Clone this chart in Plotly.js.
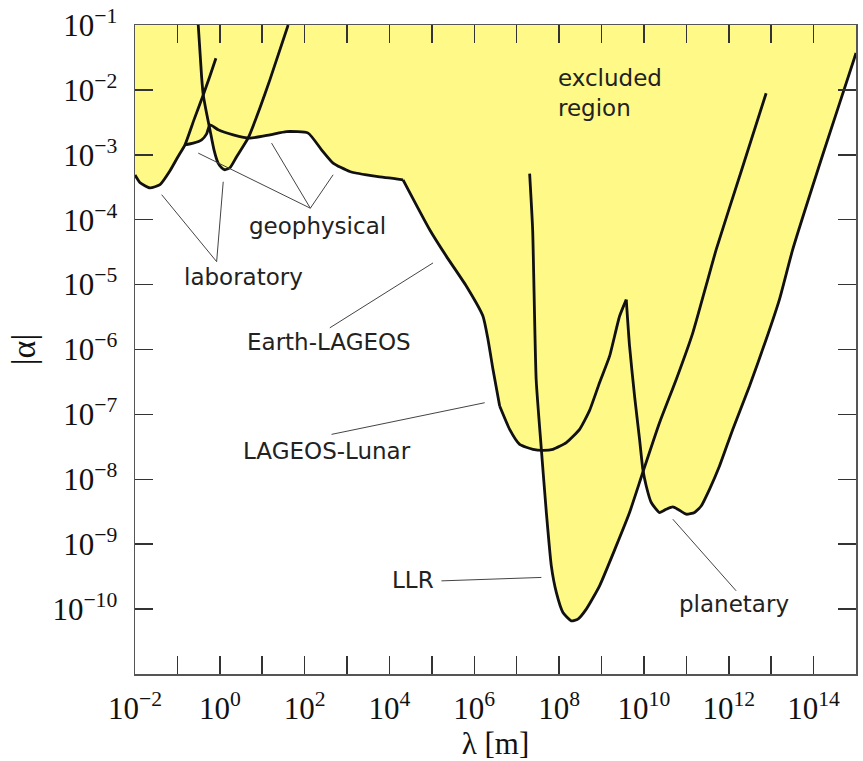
<!DOCTYPE html>
<html>
<head>
<meta charset="utf-8">
<script src="https://cdn.plot.ly/plotly-3.0.1.min.js"></script>
<style>html,body{margin:0;padding:0;background:#fff;}#chart{width:863px;height:761px;}</style>
</head>
<body>
<div id="chart"></div>
<script>
// ---- data (exponents: log10 lambda [m], log10 |alpha|) ----
const xRangeExp = [-2, 15];
const yRangeExp = [-11, -1];

const xLabelTickExps = [-2,0,2,4,6,8,10,12,14];
const xMinorTickExps = [-1,1,3,5,7,9,11,13];
const yTickExps = [-1,-2,-3,-4,-5,-6,-7,-8,-9,-10];

// laboratory curve 1 (left)
const labA_x = [-2, -1.88, -1.647, -1.41, -1.175, -0.987, -0.822, -0.610, -0.391, -0.233, -0.092];
const labA_y = [-3.31, -3.43, -3.51, -3.46, -3.246, -3.03, -2.846, -2.462, -2.077, -1.785, -1.512];

// laboratory curve 2 (steep V near 1 m)
const labB_x = [-0.509, -0.43, -0.391, -0.327, -0.233, -0.139, -0.045, 0.042, 0.12, 0.238, 0.396, 0.669, 0.945, 1.18, 1.611];
const labB_y = [-1, -1.795, -2.077, -2.31, -2.615, -2.92, -3.12, -3.20, -3.23, -3.20, -3.03, -2.74, -2.28, -1.846, -1];

// geophysical
const geo_x = [-0.822, -0.627, -0.429, -0.311, -0.233, -0.038, 0.316, 0.709, 1.180, 1.574, 2.082, 2.398, 2.671, 3.064, 3.694, 4.320];
const geo_y = [-2.846, -2.820, -2.769, -2.677, -2.538, -2.615, -2.692, -2.743, -2.692, -2.642, -2.666, -2.923, -3.128, -3.257, -3.334, -3.385];

// Earth-LAGEOS
const earthLageos_x = [4.320, 4.949, 5.343, 5.814, 6.205, 6.323, 6.441, 6.598];
const earthLageos_y = [-3.385, -4.154, -4.565, -5.026, -5.488, -5.846, -6.308, -6.872];

// LAGEOS-Lunar
const lageosLunar_x = [6.598, 6.834, 7.069, 7.383, 7.618, 7.854, 8.170, 8.483, 8.719, 8.955, 9.190, 9.425, 9.583];
const lageosLunar_y = [-6.872, -7.231, -7.462, -7.538, -7.554, -7.538, -7.435, -7.231, -6.938, -6.508, -6.103, -5.488, -5.231];

// planetary
const planetary_x = [9.583, 9.661, 9.779, 9.897, 9.974, 10.054, 10.172, 10.367, 10.525, 10.681, 10.799, 10.997, 11.192, 11.350, 11.546, 11.782, 12.094, 12.488, 12.881, 13.194, 13.507, 14.254, 14.961, 15.0];
const planetary_y = [-5.231, -5.949, -6.718, -7.385, -7.846, -8.103, -8.358, -8.512, -8.462, -8.426, -8.462, -8.538, -8.512, -8.411, -8.154, -7.795, -7.231, -6.565, -5.846, -5.231, -4.462, -2.923, -1.512, -1.43];

// LLR
const llr_x = [7.305, 7.376, 7.459, 7.581, 7.699, 7.816, 7.934, 8.090, 8.287, 8.443, 8.641, 8.954, 9.347, 9.661, 9.974, 10.367, 10.761, 11.152, 11.505, 11.703, 12.292, 12.881];
const llr_y = [-3.29, -4.154, -6.462, -7.538, -8.512, -9.334, -9.743, -10.051, -10.180, -10.154, -10.0, -9.641, -9.026, -8.512, -7.892, -7.128, -6.462, -5.743, -4.923, -4.462, -3.257, -2.051];

// lower boundary of the excluded region
const boundary_x = [-2, -1.88, -1.647, -1.41, -1.175, -0.987, -0.822, -0.627, -0.429, -0.311, -0.248,
  -0.233, -0.139, -0.045, 0.042, 0.12, 0.238, 0.396, 0.669,
  0.709, 1.180, 1.574, 2.082, 2.398, 2.671, 3.064, 3.694, 4.320,
  4.949, 5.343, 5.814, 6.205, 6.323, 6.441, 6.598,
  6.834, 7.069, 7.383, 7.581,
  7.699, 7.816, 7.934, 8.090, 8.287, 8.443, 8.641, 8.954, 9.347, 9.661, 9.974,
  10.054, 10.172, 10.367, 10.525, 10.681, 10.799, 10.997, 11.192, 11.350, 11.546, 11.782, 12.094, 12.488, 12.881, 13.194, 13.507, 14.254, 14.961, 15.0];
const boundary_y = [-3.31, -3.43, -3.51, -3.46, -3.246, -3.03, -2.846, -2.820, -2.769, -2.677, -2.566,
  -2.615, -2.92, -3.12, -3.20, -3.23, -3.20, -3.03, -2.74,
  -2.743, -2.692, -2.642, -2.666, -2.923, -3.128, -3.257, -3.334, -3.385,
  -4.154, -4.565, -5.026, -5.488, -5.846, -6.308, -6.872,
  -7.231, -7.462, -7.538, -7.545,
  -8.512, -9.334, -9.743, -10.051, -10.180, -10.154, -10.0, -9.641, -9.026, -8.512, -7.85,
  -8.103, -8.358, -8.512, -8.462, -8.426, -8.462, -8.538, -8.512, -8.411, -8.154, -7.795, -7.231, -6.565, -5.846, -5.231, -4.462, -2.923, -1.512, -1.43];

// leader lines (polylines of [x,y] exponents)
const leaders = [
  [[-1.371,-3.615],[-0.075,-4.646],[0.080,-3.415]],          // laboratory
  [[-0.509,-2.974],[2.134,-3.823],[1.220,-2.820]],           // geophysical
  [[2.134,-3.823],[2.671,-3.308]],                            // geophysical
  [[5.027,-4.666],[2.594,-5.666]],                            // Earth-LAGEOS
  [[6.245,-6.820],[2.634,-7.308]],                            // LAGEOS-Lunar
  [[5.225,-9.565],[7.581,-9.512]],                            // LLR
  [[10.681,-8.615],[12.174,-9.718]]                           // planetary
];

// labels: [text, xExp, yExp, xanchor]
const labels = [
  ['excluded<br>region', 7.92, -2.05, 'left'],
  ['geophysical', 2.311, -4.092, 'center'],
  ['laboratory', 0.551, -4.877, 'center'],
  ['Earth-LAGEOS', 2.570, -5.885, 'center'],
  ['LAGEOS-Lunar', 2.535, -7.562, 'center'],
  ['LLR', 4.556, -9.554, 'center'],
  ['planetary', 12.134, -9.923, 'center']
];

// ---- build ----
const p10 = a => a.map(v => Math.pow(10, v));
const YELLOW = '#fffa88';
const LINE = {color: '#111', width: 2.8, shape: 'spline', smoothing: 0.5};

const traces = [];
traces.push({x: p10(xRangeExp), y: p10([yRangeExp[1], yRangeExp[1]]), mode: 'lines',
  line: {width: 0}, hoverinfo: 'skip', showlegend: false});
traces.push({x: p10(boundary_x), y: p10(boundary_y), mode: 'lines', fill: 'tonexty',
  fillcolor: YELLOW, line: {width: 0, shape: 'spline', smoothing: 0.5}, hoverinfo: 'skip', showlegend: false});

[[labA_x, labA_y], [labB_x, labB_y], [geo_x, geo_y], [earthLageos_x, earthLageos_y],
 [lageosLunar_x, lageosLunar_y], [planetary_x, planetary_y], [llr_x, llr_y]].forEach(c => {
  traces.push({x: p10(c[0]), y: p10(c[1]), mode: 'lines', line: LINE, hoverinfo: 'skip', showlegend: false});
});

const lx = [], ly = [];
leaders.forEach(seg => { seg.forEach(p => { lx.push(Math.pow(10, p[0])); ly.push(Math.pow(10, p[1])); }); lx.push(null); ly.push(null); });
traces.push({x: lx, y: ly, mode: 'lines', line: {color: '#444', width: 1}, hoverinfo: 'skip', showlegend: false, connectgaps: false});

const supText = e => '10<sup>' + (e < 0 ? '\u2212' + (-e) : e) + '</sup>';
const SERIF = 'Liberation Serif, Times New Roman, serif';
const TICKFONT = {family: SERIF, size: 31, color: '#111'};

const axisCommon = {
  type: 'log', ticks: 'inside', ticklen: 18, tickwidth: 1.5, tickcolor: '#333',
  showline: true, linecolor: '#555', linewidth: 1.5, mirror: 'allticks',
  showgrid: false, zeroline: false, tickfont: TICKFONT, fixedrange: true
};

const layout = {
  width: 863, height: 761,
  margin: {l: 135, r: 7, t: 25, b: 87},
  paper_bgcolor: '#fff', plot_bgcolor: '#fff',
  showlegend: false,
  xaxis: Object.assign({}, axisCommon, {
    range: xRangeExp,
    tickmode: 'array',
    tickvals: p10(xLabelTickExps),
    ticktext: xLabelTickExps.map(supText),
    minor: {tickmode: 'array', tickvals: p10(xMinorTickExps), ticks: 'inside', ticklen: 18, tickwidth: 1.5, tickcolor: '#333', showgrid: false},
    ticklabelstandoff: 6,
    title: {text: '\u03bb [m]', font: {family: SERIF, size: 31, color: '#111'}, standoff: 2}
  }),
  yaxis: Object.assign({}, axisCommon, {
    range: yRangeExp,
    tickmode: 'array',
    tickvals: p10(yTickExps),
    ticktext: yTickExps.map(supText),
    ticklabelstandoff: 10,
    automargin: 'left',
    title: {text: '|\u03b1|', font: {family: SERIF, size: 34, color: '#111'}, standoff: 6}
  }),
  annotations: labels.map(l => ({
    text: l[0], x: l[1], y: l[2], xref: 'x', yref: 'y', xanchor: l[3], yanchor: 'middle', align: 'left',
    showarrow: false, font: {family: 'DejaVu Sans, sans-serif', size: 23, color: '#222'}
  }))
};

Plotly.newPlot('chart', traces, layout, {displayModeBar: false, staticPlot: true});
</script>
</body>
</html>
